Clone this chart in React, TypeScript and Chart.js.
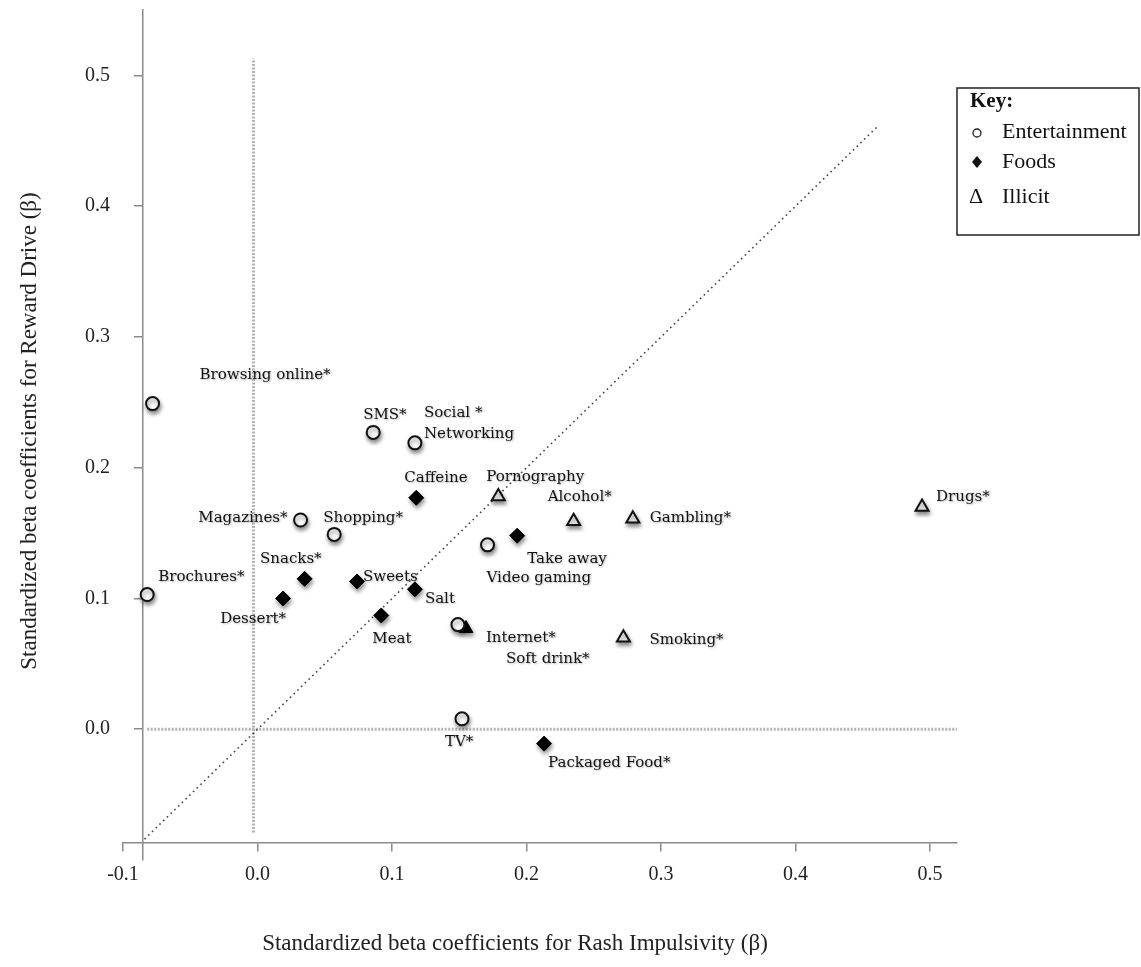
import { useEffect, useRef } from 'react';
import { Chart, registerables } from 'chart.js';

Chart.register(...registerables);

// ---------- data ----------
const entertainmentLabels = ['Browsing online*', 'SMS*', 'Social *\nNetworking', 'Magazines*', 'Shopping*', 'Video gaming', 'Brochures*', 'Internet*', 'TV*'];
const entertainmentX = [-0.078, 0.086, 0.117, 0.032, 0.057, 0.171, -0.082, 0.149, 0.152];
const entertainmentY = [0.249, 0.227, 0.219, 0.160, 0.149, 0.141, 0.103, 0.080, 0.008];

const foodLabels = ['Caffeine', 'Take away', 'Snacks*', 'Sweets', 'Salt', 'Dessert*', 'Meat', 'Soft drink*', 'Packaged Food*'];
const foodX = [0.118, 0.193, 0.035, 0.074, 0.117, 0.019, 0.092, 0.155, 0.213];
const foodY = [0.177, 0.148, 0.115, 0.113, 0.107, 0.100, 0.087, 0.077, -0.011];

const illicitLabels = ['Pornography', 'Alcohol*', 'Gambling*', 'Drugs*', 'Smoking*'];
const illicitX = [0.179, 0.235, 0.279, 0.494, 0.272];
const illicitY = [0.178, 0.159, 0.161, 0.170, 0.070];

// reference lines
const diagonalX = [-0.084, 0.461];
const diagonalY = [-0.084, 0.461];
const verticalX = [-0.003, -0.003];
const verticalY = [-0.079, 0.513];
const horizontalX = [-0.082, 0.52];
const horizontalY = [0, 0];

const xTicks = [-0.1, 0, 0.1, 0.2, 0.3, 0.4, 0.5];
const yTicks = [0, 0.1, 0.2, 0.3, 0.4, 0.5];

const seriesNames = ['Entertainment', 'Foods', 'Illicit'];
const xTitle = 'Standardized beta coefficients for Rash Impulsivity (β)';
const yTitle = 'Standardized beta coefficients for Reward Drive (β)';

// ---------- layout / style ----------
const W = 1141;
const H = 967;
const PLOT_LEFT = 123;
const Y_LABEL_BOX = 40;
const SERIF = '"Liberation Serif", "Times New Roman", serif';
const LABEL_FONT = '"DejaVu Serif", serif';
const AXIS_COLOR = '#8a8a8a';

// label placement relative to marker (px): [dx, dy, align]
const labelPlacement: Record<string, [number, number, CanvasTextAlign]> = {
  'Browsing online*': [47, -29, 'left'],
  'SMS*': [-10, -17, 'left'],
  'Social *\nNetworking': [9, -30, 'left'],
  'Magazines*': [-13, -2, 'right'],
  'Shopping*': [-11, -16, 'left'],
  'Video gaming': [-1, 33, 'left'],
  'Brochures*': [11, -17, 'left'],
  'Internet*': [28, 13, 'left'],
  'TV*': [-17, 23, 'left'],
  'Caffeine': [-12, -20, 'left'],
  'Take away': [10, 23, 'left'],
  'Snacks*': [17, -20, 'right'],
  'Sweets': [6, -4, 'left'],
  'Salt': [10, 10, 'left'],
  'Dessert*': [3, 21, 'right'],
  'Meat': [-9, 24, 'left'],
  'Soft drink*': [40, 31, 'left'],
  'Packaged Food*': [4, 19, 'left'],
  'Pornography': [-12, -19, 'left'],
  'Alcohol*': [-26, -24, 'left'],
  'Gambling*': [17, -1, 'left'],
  'Drugs*': [14, -10, 'left'],
  'Smoking*': [26, 2, 'left'],
};

const toPoints = (xs: number[], ys: number[]) => xs.map((x, i) => ({ x, y: ys[i] }));

const markerShadow = {
  id: 'markerShadow',
  beforeDatasetDraw(chart: any, args: any) {
    if (args.index > 2) return;
    const ctx = chart.ctx;
    ctx.save();
    ctx.shadowColor = 'rgba(0,0,0,0.45)';
    ctx.shadowBlur = 4;
    ctx.shadowOffsetX = 1;
    ctx.shadowOffsetY = 3;
  },
  afterDatasetDraw(chart: any, args: any) {
    if (args.index > 2) return;
    chart.ctx.restore();
  },
};

const pointLabels = {
  id: 'pointLabels',
  afterDatasetsDraw(chart: any) {
    const ctx = chart.ctx;
    ctx.save();
    ctx.font = `15px ${LABEL_FONT}`;
    ctx.fillStyle = '#111';
    ctx.textBaseline = 'middle';
    ctx.shadowColor = 'rgba(0,0,0,0.3)';
    ctx.shadowBlur = 2;
    ctx.shadowOffsetX = 1;
    ctx.shadowOffsetY = 1;
    const names: string[][] = [entertainmentLabels, foodLabels, illicitLabels];
    names.forEach((labels, di) => {
      const meta = chart.getDatasetMeta(di);
      meta.data.forEach((el: any, i: number) => {
        const text = labels[i];
        const [dx, dy, align] = labelPlacement[text] || [10, 0, 'left'];
        ctx.textAlign = align;
        text.split('\n').forEach((line, li) => {
          ctx.fillText(line, el.x + dx, el.y + dy + li * 21);
        });
      });
    });
    ctx.restore();
  },
};

const titlesAndKey = {
  id: 'titlesAndKey',
  afterDraw(chart: any) {
    const ctx = chart.ctx;
    ctx.save();
    ctx.fillStyle = '#222';
    ctx.font = `23px ${SERIF}`;
    ctx.textAlign = 'center';
    ctx.textBaseline = 'middle';
    ctx.fillText(xTitle, 515, 944);
    ctx.save();
    ctx.translate(30, 431);
    ctx.rotate(-Math.PI / 2);
    ctx.fillText(yTitle, 0, 0);
    ctx.restore();

    // key box
    ctx.strokeStyle = '#222';
    ctx.lineWidth = 1.5;
    ctx.strokeRect(957, 88, 182, 147);
    ctx.fillStyle = '#111';
    ctx.textAlign = 'left';
    ctx.font = `bold 21px ${SERIF}`;
    ctx.fillText('Key:', 970, 102);
    ctx.font = `22px ${SERIF}`;
    const rows = [132, 162, 197];
    seriesNames.forEach((n, i) => ctx.fillText(n, 1002, rows[i]));
    // symbols
    ctx.lineWidth = 1.3;
    ctx.beginPath();
    ctx.arc(977, rows[0] + 1, 4, 0, Math.PI * 2);
    ctx.stroke();
    ctx.beginPath();
    ctx.moveTo(977, rows[1] - 6);
    ctx.lineTo(982, rows[1]);
    ctx.lineTo(977, rows[1] + 6);
    ctx.lineTo(972, rows[1]);
    ctx.closePath();
    ctx.fill();
    ctx.font = `22px ${SERIF}`;
    ctx.fillText('Δ', 969, rows[2]);
    ctx.restore();
  },
};

const noPad = (s: any) => {
  s.paddingTop = 0;
  s.paddingBottom = 0;
  s.paddingLeft = 0;
  s.paddingRight = 0;
};

export default function App() {
  const ref = useRef<HTMLCanvasElement>(null);
  useEffect(() => {
    const chart = new Chart(ref.current as HTMLCanvasElement, {
      type: 'scatter',
      data: {
        datasets: [
          {
            label: seriesNames[0],
            data: toPoints(entertainmentX, entertainmentY),
            pointStyle: 'circle',
            pointRadius: 6.5,
            pointBorderWidth: 2,
            borderColor: '#111',
            backgroundColor: '#fff',
            order: 1,
          },
          {
            label: seriesNames[1],
            data: toPoints(foodX, foodY),
            pointStyle: foodLabels.map((l) => (l === 'Soft drink*' ? 'triangle' : 'rectRot')),
            pointRadius: foodLabels.map((l) => (l === 'Soft drink*' ? 8 : 7.5)),
            pointBorderWidth: 1,
            borderColor: '#000',
            backgroundColor: '#000',
            order: 1,
          },
          {
            label: seriesNames[2],
            data: toPoints(illicitX, illicitY),
            pointStyle: 'triangle',
            pointRadius: 7.5,
            pointBorderWidth: 2,
            borderColor: '#111',
            backgroundColor: '#fff',
            order: 1,
          },
          {
            type: 'line',
            label: 'diagonal',
            data: toPoints(diagonalX, diagonalY),
            borderColor: '#444',
            borderWidth: 1.6,
            borderDash: [1.6, 3.6],
            pointRadius: 0,
            showLine: true,
            fill: false,
            order: 5,
          },
          {
            type: 'line',
            label: 'vertical',
            data: toPoints(verticalX, verticalY),
            borderColor: '#b4b4b4',
            borderWidth: 3,
            borderDash: [2, 1.5],
            pointRadius: 0,
            showLine: true,
            fill: false,
            order: 6,
          },
          {
            type: 'line',
            label: 'horizontal',
            data: toPoints(horizontalX, horizontalY),
            borderColor: '#b4b4b4',
            borderWidth: 3,
            borderDash: [2, 1.5],
            pointRadius: 0,
            showLine: true,
            fill: false,
            order: 6,
          },
        ] as any,
      },
      options: {
        responsive: false,
        animation: false,
        layout: { padding: { left: PLOT_LEFT - Y_LABEL_BOX, top: 10, right: W - 957, bottom: H - 860 } },
        plugins: { legend: { display: false }, tooltip: { enabled: false } },
        scales: {
          x: {
            type: 'linear',
            axis: 'x',
            min: -0.1,
            max: 0.52,
            position: { y: -0.087 } as any,
            afterBuildTicks: (s: any) => {
              s.ticks = xTicks.map((v) => ({ value: v }));
            },
            afterFit: noPad,
            grid: { drawOnChartArea: false, drawTicks: true, tickLength: 8, color: AXIS_COLOR, lineWidth: 1.5 },
            border: { display: true, color: AXIS_COLOR, width: 1.5 },
            ticks: {
              padding: 12,
              color: '#222',
              font: { family: SERIF, size: 20 },
              maxRotation: 0,
              callback: (v: any) => Number(v).toFixed(1),
            },
          },
          y: {
            type: 'linear',
            axis: 'y',
            min: -0.1,
            max: 0.55,
            position: { x: -0.085 } as any,
            afterBuildTicks: (s: any) => {
              s.ticks = yTicks.map((v) => ({ value: v }));
            },
            afterFit: noPad,
            grid: { drawOnChartArea: false, drawTicks: true, tickLength: 8, color: AXIS_COLOR, lineWidth: 1.5 },
            border: { display: true, color: AXIS_COLOR, width: 1.5 },
            ticks: { display: false, padding: 0 },
          },
          // label-only companion of the y axis (same range), at the plot's left edge
          yLabels: {
            type: 'linear',
            axis: 'y',
            position: 'left',
            min: -0.1,
            max: 0.55,
            afterBuildTicks: (s: any) => {
              s.ticks = yTicks.map((v) => ({ value: v }));
            },
            afterFit: (s: any) => {
              noPad(s);
              s.width = Y_LABEL_BOX;
            },
            grid: { display: false, drawTicks: false },
            border: { display: false },
            ticks: {
              padding: 13,
              color: '#222',
              font: { family: SERIF, size: 20 },
              callback: (v: any) => Number(v).toFixed(1),
            },
          },
        } as any,
      },
      plugins: [markerShadow, pointLabels, titlesAndKey],
    });
    return () => chart.destroy();
  }, []);
  return (
    <div style={{ position: 'absolute', left: 0, top: 0, width: W, height: H, background: '#fff' }}>
      <canvas ref={ref} width={W} height={H} style={{ display: 'block' }} />
    </div>
  );
}
